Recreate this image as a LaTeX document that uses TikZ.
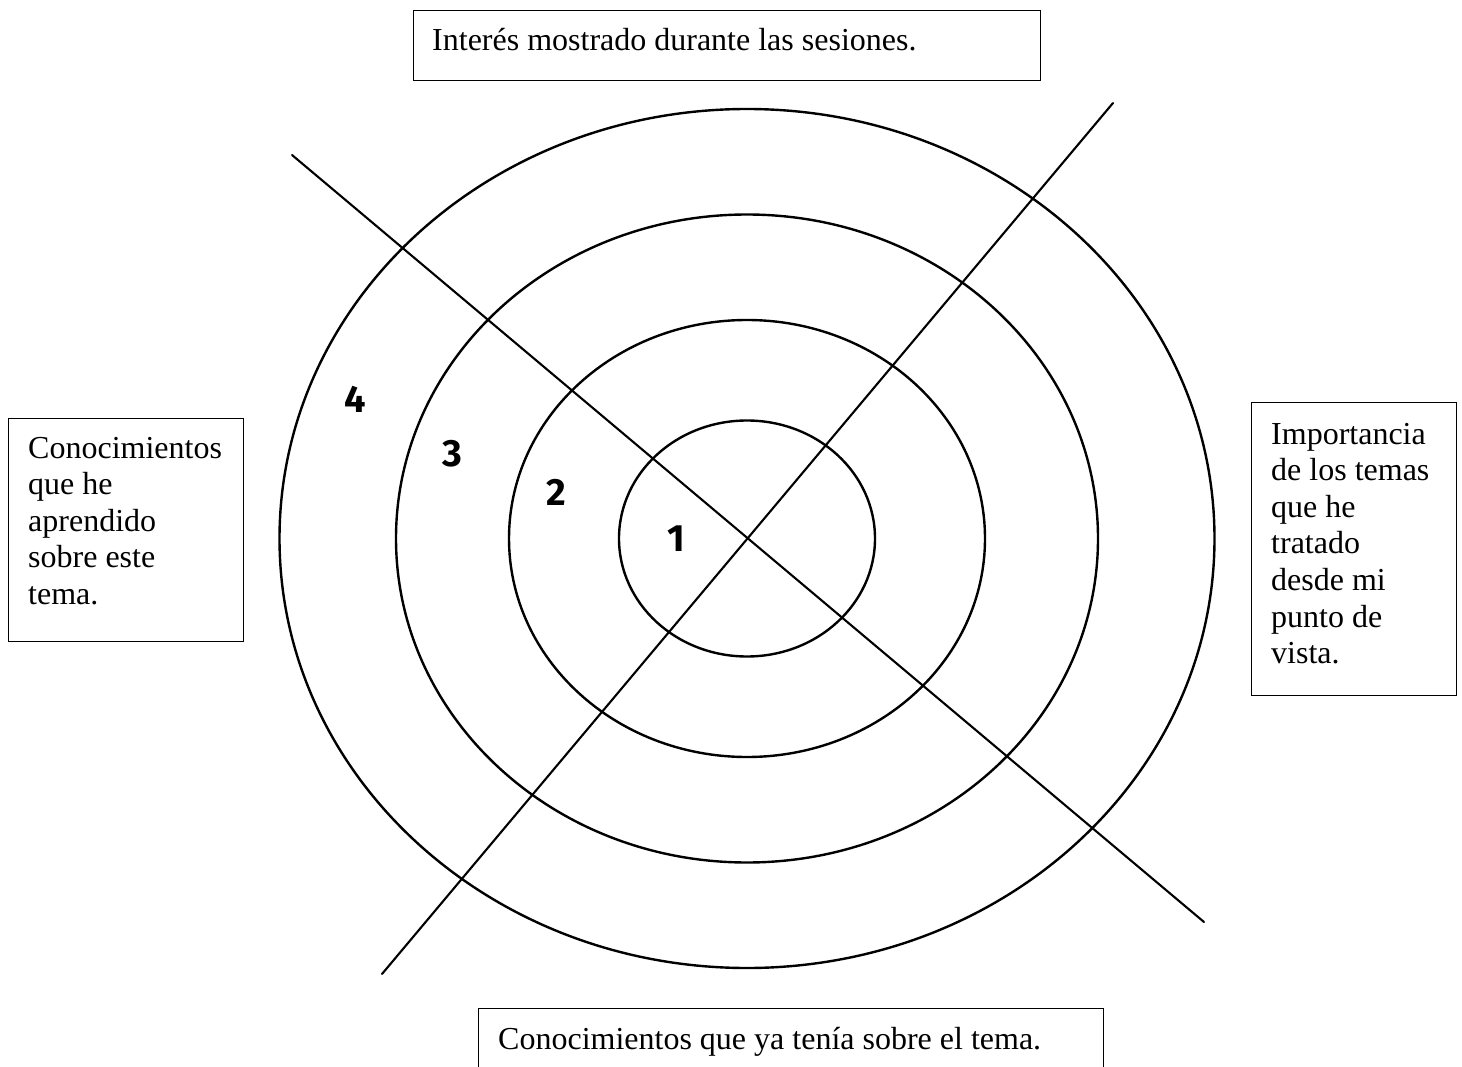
\documentclass[tikz,border=0pt]{standalone}
\usepackage{fontspec}
\setmainfont{Liberation Serif}
\newfontfamily\numfont{Fira Sans}
\begin{document}
\begin{tikzpicture}[x=1pt,y=-1pt,
  ring/.style={line width=2.4pt},
  axis/.style={line width=2.1pt, line cap=round},
  box/.style={draw, line width=1.2pt, anchor=north west, inner sep=0pt},
  label/.style={anchor=base west, inner sep=0pt, font=\fontsize{32}{36.6}\selectfont},
  num/.style={inner sep=0pt, font=\numfont\bfseries\fontsize{38}{40}\selectfont}]
\useasboundingbox (0,0) rectangle (1462,1067);
\clip (0,0) rectangle (1462,1067);
\coordinate (c) at (747,538.5);
\draw[ring] (c) ellipse [x radius=467.5pt, y radius=429.5pt];
\draw[ring] (c) ellipse [x radius=351pt, y radius=324pt];
\draw[ring] (c) ellipse [x radius=238pt, y radius=218.5pt];
\draw[ring] (c) ellipse [x radius=128pt, y radius=118pt];
\coordinate (a1) at (292,155);
\coordinate (a2) at (1204,922);
\coordinate (b1) at (1113,103);
\coordinate (b2) at (382,974);
\draw[axis] (a1) -- (a2);
\draw[axis] (b1) -- (b2);
\node[box, minimum width=627pt, minimum height=70pt] (topbox) at (413,10) {};
\node[label] (toptxt) at (432,51) {Interés mostrado durante las sesiones.};
\node[box, minimum width=235pt, minimum height=223pt] (leftbox) at (8,418) {};
\node[label] (lefttxt) at (28,458) {\parbox[t]{200pt}{\raggedright Conocimientos\\que he\\aprendido\\sobre este\\tema.}};
\node[box, minimum width=205pt, minimum height=293pt] (rightbox) at (1251,402) {};
\node[label] (righttxt) at (1271,444) {\parbox[t]{180pt}{\raggedright Importancia\\de los temas\\que he\\tratado\\desde mi\\punto de\\vista.}};
\node[box, minimum width=625pt, minimum height=80pt] (botbox) at (478,1008) {};
\node[label] (bottxt) at (498,1049) {Conocimientos que ya tenía sobre el tema.};
\node[num] (n4) at (355,399) {4};
\node[num] (n3) at (452,454) {3};
\node[num] (n2) at (556,492) {2};
\node[num] (n1) at (676,539) {1};
\end{tikzpicture}
\end{document}
